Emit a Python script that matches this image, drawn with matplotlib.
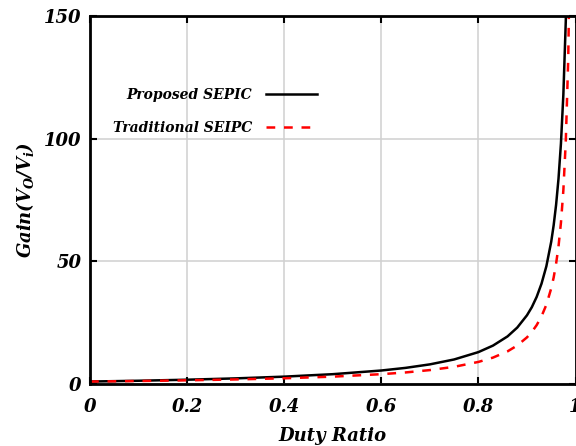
import matplotlib
matplotlib.use("Agg")
import matplotlib.pyplot as plt

duty = [0.0, 0.1, 0.2, 0.3, 0.4, 0.5, 0.6, 0.65, 0.7, 0.75, 0.8, 0.83, 0.86, 0.88,
        0.9, 0.91, 0.92, 0.93, 0.94, 0.95, 0.955, 0.96, 0.965, 0.97, 0.975, 0.98,
        0.985, 0.99]
proposed = [1.0, 1.33, 1.75, 2.29, 3.0, 4.0, 5.5, 6.57, 8.0, 10.0, 13.0, 15.65, 19.4, 23.0,
            28.0, 31.3, 35.5, 40.9, 48.0, 58.0, 64.7, 73.0, 83.7, 98.0, 118.0, 148.0,
            198.0, 297.0]
traditional = [1.0, 1.22, 1.5, 1.86, 2.33, 3.0, 4.0, 4.71, 5.67, 7.0, 9.0, 10.76, 13.3, 15.7,
               19.0, 21.2, 24.0, 27.6, 32.3, 39.0, 43.4, 49.0, 56.1, 65.7, 79.0, 99.0,
               132.3, 199.0]
xticks = [0, 0.2, 0.4, 0.6, 0.8, 1]
xticklabels = ["0", "0.2", "0.4", "0.6", "0.8", "1"]
yticks = [0, 50, 100, 150]
yticklabels = ["0", "50", "100", "150"]

plt.rcParams['font.family'] = 'DejaVu Serif'
plt.rcParams['mathtext.fontset'] = 'custom'
plt.rcParams['mathtext.it'] = 'DejaVu Serif:bold:italic'
plt.rcParams['mathtext.rm'] = 'DejaVu Serif:bold:italic'
fp = dict(weight='bold', style='italic')

fig = plt.figure(figsize=(5.76, 4.46), dpi=100)
ax = fig.add_axes([90/576, 62/446, 485.5/576, 368/446])

ax.plot(duty, proposed, color='black', lw=1.8, label='Proposed SEPIC')
ax.plot(duty, traditional, color='red', lw=1.8, dashes=(3.5, 3.5), label='Traditional SEIPC')

ax.set_xlim(0, 1)
ax.set_ylim(0, 150)
ax.set_xticks(xticks)
ax.set_xticklabels(xticklabels, fontsize=13, **fp)
ax.set_yticks(yticks)
ax.set_yticklabels(yticklabels, fontsize=13, **fp)
ax.tick_params(direction='in', length=5, width=1.5, top=True, right=True)
ax.tick_params(axis='x', pad=10)
ax.tick_params(axis='y', pad=6)
ax.grid(True, color='#d0d0d0', lw=1.1)
for s in ax.spines.values():
    s.set_linewidth(2)

ax.set_xlabel('Duty Ratio', fontsize=13, labelpad=8, **fp)
ax.set_ylabel(r'Gain($V_O/V_i$)', fontsize=13, labelpad=6, **fp)

leg = ax.legend(loc='center right', bbox_to_anchor=(0.494, 0.74), frameon=False,
                markerfirst=False, prop=dict(size=10, weight='bold', style='italic'),
                handlelength=3.7, labelspacing=1.35, handletextpad=1.0)

fig.savefig('out.png', dpi=100)
